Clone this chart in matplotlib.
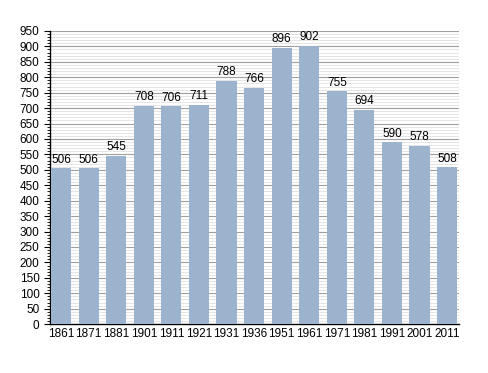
import matplotlib
matplotlib.use("Agg")
import matplotlib.pyplot as plt
from matplotlib.ticker import MultipleLocator

plt.rcParams["font.family"] = ["Liberation Sans Narrow", "Liberation Sans", "DejaVu Sans"]

# census years and population
years = ["1861", "1871", "1881", "1901", "1911", "1921", "1931", "1936",
         "1951", "1961", "1971", "1981", "1991", "2001", "2011"]
population = [506, 506, 545, 708, 706, 711, 788, 766,
              896, 902, 755, 694, 590, 578, 508]

fig = plt.figure(figsize=(4.88, 3.73), dpi=100)
ax = fig.add_axes([0.1025, 0.131, 0.838, 0.786])

x = range(len(years))
ax.bar(x, population, width=0.73, color="#9bb3cd", zorder=3)

for i, v in enumerate(population):
    ax.text(i, v + 8, str(v), ha="center", va="bottom", fontsize=8.5, zorder=4)

ax.set_xlim(-0.4, len(years) - 0.57)
ax.set_ylim(0, 950)
ax.set_xticks(list(x))
ax.set_xticklabels(years, fontsize=8.5)
ax.yaxis.set_major_locator(MultipleLocator(50))
ax.yaxis.set_minor_locator(MultipleLocator(10))
ax.tick_params(axis="y", labelsize=8.5, length=4, width=0.8)
ax.tick_params(axis="y", which="minor", length=2, width=0.6)
ax.tick_params(axis="x", length=0, pad=3)

ax.grid(axis="y", which="major", color="#a0a0a0", linewidth=0.8, zorder=0)
ax.grid(axis="y", which="minor", color="#e0e0e0", linewidth=0.6, zorder=0)

ax.spines["top"].set_visible(False)
ax.spines["right"].set_visible(False)
ax.spines["left"].set_linewidth(1.0)
ax.spines["bottom"].set_linewidth(1.0)

fig.savefig("out.png", dpi=100)
